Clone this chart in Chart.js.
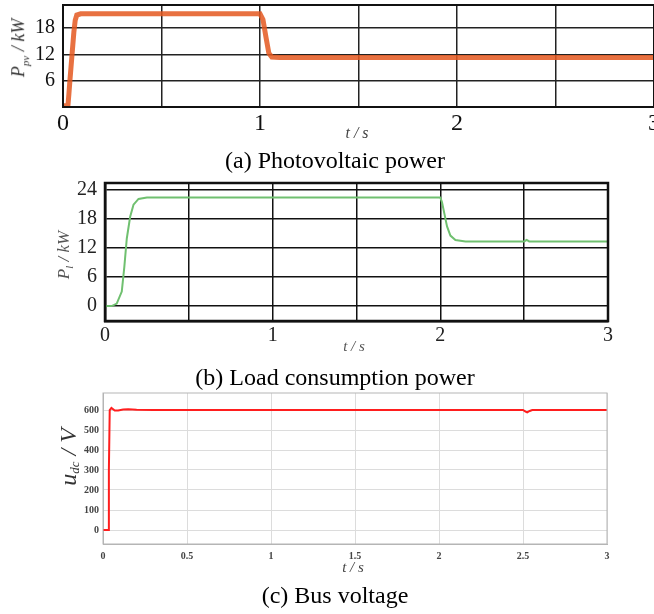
<!DOCTYPE html>
<html>
<head>
<meta charset="utf-8">
<script src="https://cdn.jsdelivr.net/npm/chart.js@4"></script>
<style>
  html, body { margin:0; padding:0; background:#fff; width:654px; height:614px; overflow:hidden; }
  body { position:relative; font-family:'Liberation Serif', serif; }
  canvas { position:absolute; }
  .lbl { position:absolute; white-space:nowrap; transform:translate(-50%,-50%); line-height:1; }
  .rot { transform:translate(-50%,-50%) rotate(-90deg); }
  .it { font-style:italic; }
</style>
</head>
<body>
<canvas id="chartA" style="left:0;top:0"></canvas>
<canvas id="chartB" style="left:0;top:175px"></canvas>
<canvas id="chartC" style="left:0;top:385px"></canvas>

<div class="lbl rot it" style="left:20px;top:48px;font-size:18px;color:#333">P<sub style="font-size:11px">pv</sub> / kW</div>
<div class="lbl it" style="left:357px;top:133px;font-size:16px;color:#444">t / s</div>
<div class="lbl" style="left:335px;top:160px;font-size:24px">(a) Photovoltaic power</div>

<div class="lbl rot it" style="left:65px;top:255px;font-size:17px;color:#555">P<sub style="font-size:11px">l</sub> / kW</div>
<div class="lbl it" style="left:354px;top:346px;font-size:15px;color:#555">t / s</div>
<div class="lbl" style="left:335px;top:377px;font-size:24px">(b) Load consumption power</div>

<div class="lbl rot it" style="left:68px;top:457px;font-size:24px;color:#333">u<sub style="font-size:13px;vertical-align:-3px">dc</sub> / V</div>
<div class="lbl it" style="left:353px;top:567px;font-size:15px;color:#444">t / s</div>
<div class="lbl" style="left:335px;top:595px;font-size:24px">(c) Bus voltage</div>

<script>
// (a) photovoltaic power, kW
const timeA = [0, 0.025, 0.03, 0.035, 0.045, 0.055, 0.062, 0.07, 0.09, 0.5, 1.0, 1.015, 1.03, 1.045, 1.06, 1.1, 2.0, 3.0];
const powerA = [0.3, 0.3, 3, 6, 11.5, 17, 19.8, 21, 21.3, 21.3, 21.3, 20, 16, 12.3, 11.4, 11.3, 11.3, 11.3];

// (b) load consumption power, kW
const timeB = [0, 0.04, 0.07, 0.1, 0.115, 0.13, 0.15, 0.17, 0.2, 0.25, 1.0, 2.0, 2.01, 2.025, 2.04, 2.06, 2.09, 2.15, 2.5, 2.515, 2.53, 3.0];
const powerB = [0, 0, 0.5, 3, 8, 14, 18.5, 21, 22.2, 22.5, 22.5, 22.5, 21.5, 19, 16.5, 14.6, 13.7, 13.4, 13.4, 13.7, 13.4, 13.4];

// (c) bus voltage, V
const timeC = [0, 0.03, 0.035, 0.04, 0.05, 0.07, 0.09, 0.12, 0.15, 0.2, 0.3, 1.0, 2.0, 2.5, 2.515, 2.525, 2.54, 2.555, 3.0];
const voltC = [0, 0, 300, 600, 610, 597, 598, 603, 604, 601, 600, 600, 600, 600, 592, 588, 595, 600, 600];

const ticksA = [6, 12, 18];
const ticksB = [0, 6, 12, 18, 24];
const ticksC = [0, 100, 200, 300, 400, 500, 600];
const timeTicks = [0, 0.5, 1, 1.5, 2, 2.5, 3];

function pts(xs, ys) { return xs.map((x, i) => ({x: x, y: ys[i]})); }

function setupCanvas(id, w, h) {
  const c = document.getElementById(id);
  c.width = w; c.height = h;
  c.style.width = w + 'px'; c.style.height = h + 'px';
  return c;
}

function makeChart(id, w, h, o) {
  const c = setupCanvas(id, w, h);
  return new Chart(c, {
    type: 'line',
    data: {
      datasets: [{
        data: pts(o.xs, o.ys),
        borderColor: o.color,
        borderWidth: o.lineWidth,
        pointRadius: 0,
        tension: 0,
        fill: false
      }]
    },
    options: {
      responsive: false,
      animation: false,
      events: [],
      layout: { padding: o.padding },
      plugins: { legend: { display: false }, tooltip: { enabled: false } },
      scales: {
        x: {
          type: 'linear', min: 0, max: 3,
          afterBuildTicks: s => { s.ticks = timeTicks.map(v => ({value: v})); },
          afterFit: s => { s.height = o.xHeight; s.paddingLeft = 0; s.paddingRight = 0; },
          grid: { color: o.gridColor, lineWidth: o.gridWidth, drawTicks: false },
          border: { color: o.borderColor, width: o.borderWidth },
          ticks: {
            padding: o.xPad, color: o.tickColor, maxRotation: 0, autoSkip: false,
            font: o.xFont,
            callback: o.xLabel
          }
        },
        y: {
          type: 'linear', min: o.yMin, max: o.yMax,
          afterBuildTicks: s => { s.ticks = o.yTicks.map(v => ({value: v})); },
          afterFit: s => { s.width = o.yWidth; s.paddingTop = 0; s.paddingBottom = 0; },
          grid: { color: o.gridColor, lineWidth: o.gridWidth, drawTicks: false },
          border: { color: o.borderColor, width: o.borderWidth },
          ticks: { padding: o.yPad, color: o.tickColor, font: o.yFont }
        }
      }
    },
    plugins: [{
      id: 'frame',
      afterDraw(ch) {
        const a = ch.chartArea, ctx = ch.ctx;
        ctx.save();
        ctx.strokeStyle = o.borderColor;
        ctx.lineWidth = o.borderWidth;
        ctx.strokeRect(a.left, a.top, a.right - a.left, a.bottom - a.top);
        ctx.restore();
      }
    }]
  });
}

const intOnly = v => (Number.isInteger(v) ? String(v) : '');

makeChart('chartA', 700, 150, {
  xs: timeA, ys: powerA, color: 'rgba(228,88,32,0.85)', lineWidth: 5,
  padding: { top: 5, right: 46, left: 0, bottom: 0 },
  xHeight: 43, yWidth: 63, yMin: 0, yMax: 23.3, yTicks: ticksA,
  gridColor: '#222', gridWidth: 1.5, borderColor: '#111', borderWidth: 2,
  tickColor: '#111', xPad: 2, yPad: 8,
  xFont: { family: 'Liberation Serif', size: 24 },
  yFont: { family: 'Liberation Serif', size: 20 },
  xLabel: intOnly
});

makeChart('chartB', 654, 175, {
  xs: timeB, ys: powerB, color: 'rgb(112,192,112)', lineWidth: 2,
  padding: { top: 8, right: 46, left: 0, bottom: 0 },
  xHeight: 29, yWidth: 105, yMin: -3.1, yMax: 25.5, yTicks: ticksB,
  gridColor: '#111', gridWidth: 1.5, borderColor: '#111', borderWidth: 2.5,
  tickColor: '#222', xPad: 3, yPad: 8,
  xFont: { family: 'Liberation Serif', size: 20 },
  yFont: { family: 'Liberation Serif', size: 20 },
  xLabel: intOnly
});

makeChart('chartC', 654, 200, {
  xs: timeC, ys: voltC, color: 'rgb(255,30,30)', lineWidth: 2,
  padding: { top: 8, right: 47, left: 0, bottom: 0 },
  xHeight: 41, yWidth: 103, yMin: -70, yMax: 685, yTicks: ticksC,
  gridColor: '#dcdcdc', gridWidth: 1, borderColor: '#b5b5b5', borderWidth: 1,
  tickColor: '#444', xPad: 6, yPad: 4,
  xFont: { family: 'Liberation Serif', size: 10, weight: 'bold' },
  yFont: { family: 'Liberation Serif', size: 10, weight: 'bold' },
  xLabel: v => String(v)
});
</script>
</body>
</html>
